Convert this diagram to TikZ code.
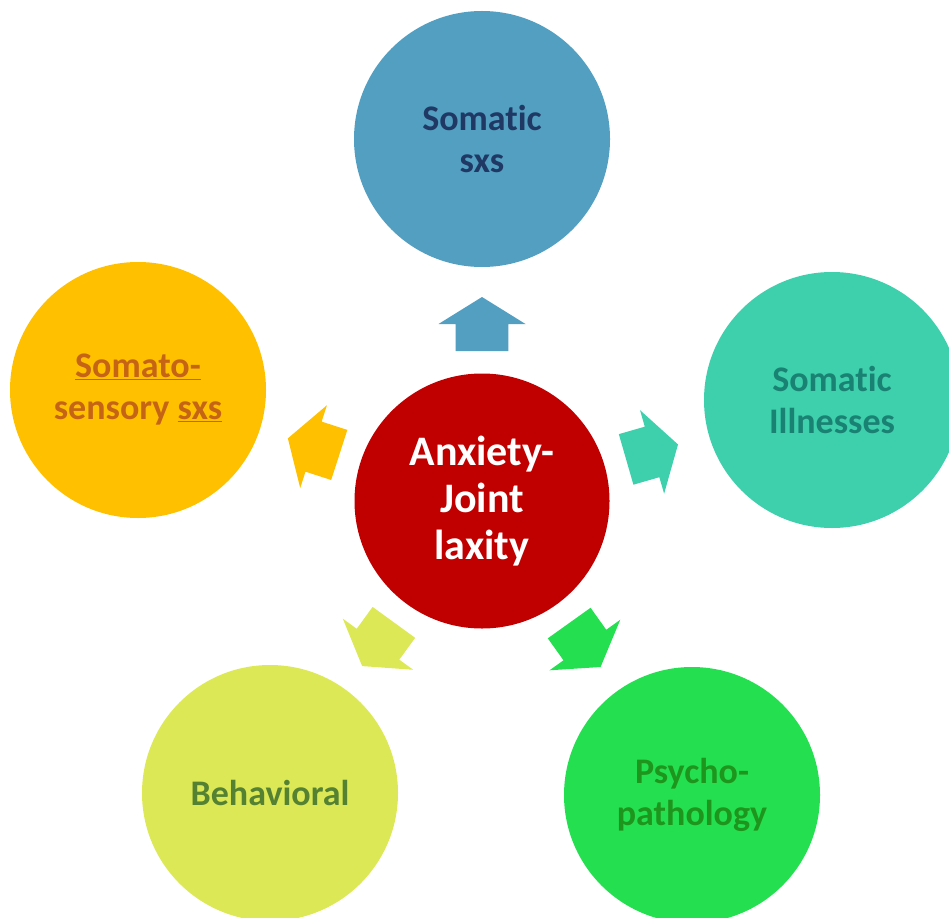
\documentclass[tikz,border=0pt]{standalone}
\usepackage{fontspec}
\setmainfont{Carlito}[RawFeature={-liga;-clig;-calt;-dlig}]
\usetikzlibrary{calc}
\definecolor{cTop}{RGB}{82,159,193}
\definecolor{tTop}{RGB}{31,56,100}
\definecolor{cRight}{RGB}{62,208,172}
\definecolor{tRight}{RGB}{26,130,115}
\definecolor{cLeft}{RGB}{255,192,0}
\definecolor{tLeft}{RGB}{197,100,20}
\definecolor{cBL}{RGB}{220,232,85}
\definecolor{tBL}{RGB}{84,130,50}
\definecolor{cBR}{RGB}{36,224,80}
\definecolor{tBR}{RGB}{30,150,30}
\definecolor{cCtr}{RGB}{192,0,0}
\newcommand\blockarr[2]{%
  \fill[#2]
    ($(ctr.center)!150pt!(#1.center)!26.3pt!90:(ctr.center)$) --
    ($(ctr.center)!177pt!(#1.center)!26.3pt!90:(ctr.center)$) --
    ($(ctr.center)!177pt!(#1.center)!43.5pt!90:(ctr.center)$) --
    ($(ctr.center)!204pt!(#1.center)$) --
    ($(ctr.center)!177pt!(#1.center)!43.5pt!-90:(ctr.center)$) --
    ($(ctr.center)!177pt!(#1.center)!26.3pt!-90:(ctr.center)$) --
    ($(ctr.center)!150pt!(#1.center)!26.3pt!-90:(ctr.center)$) -- cycle;}
\begin{document}
\begin{tikzpicture}[x=1pt,y=-1pt,
  bubble/.style={circle,draw=none,inner sep=0pt,minimum size=256pt,align=center,
    font=\bfseries\fontsize{36}{42}\selectfont}]
\useasboundingbox (0,0) rectangle (949,917);
\clip (0,0) rectangle (949,917);
\node[bubble,fill=cCtr,text=white,minimum size=255pt,font=\bfseries\fontsize{42}{47}\selectfont] (ctr) at (482,501) {Anxiety-\\Joint\\laxity};
\node[bubble,fill=cTop,text=tTop] (sxs) at (482,139) {Somatic\\sxs};
\node[bubble,fill=cRight,text=tRight] (ill) at (832,400) {Somatic\\Illnesses};
\node[bubble,fill=cBR,text=tBR] (psy) at (692,795) {Psycho-\\pathology};
\node[bubble,fill=cBL,text=tBL] (beh) at (270,793) {Behavioral};
\node[bubble,fill=cLeft,text=tLeft] (sen) at (138,390) {\underline{Somato-}\\sensory \underline{sxs}};
\blockarr{sxs}{cTop}
\blockarr{ill}{cRight}
\blockarr{psy}{cBR}
\blockarr{beh}{cBL}
\blockarr{sen}{cLeft}
\end{tikzpicture}
\end{document}
